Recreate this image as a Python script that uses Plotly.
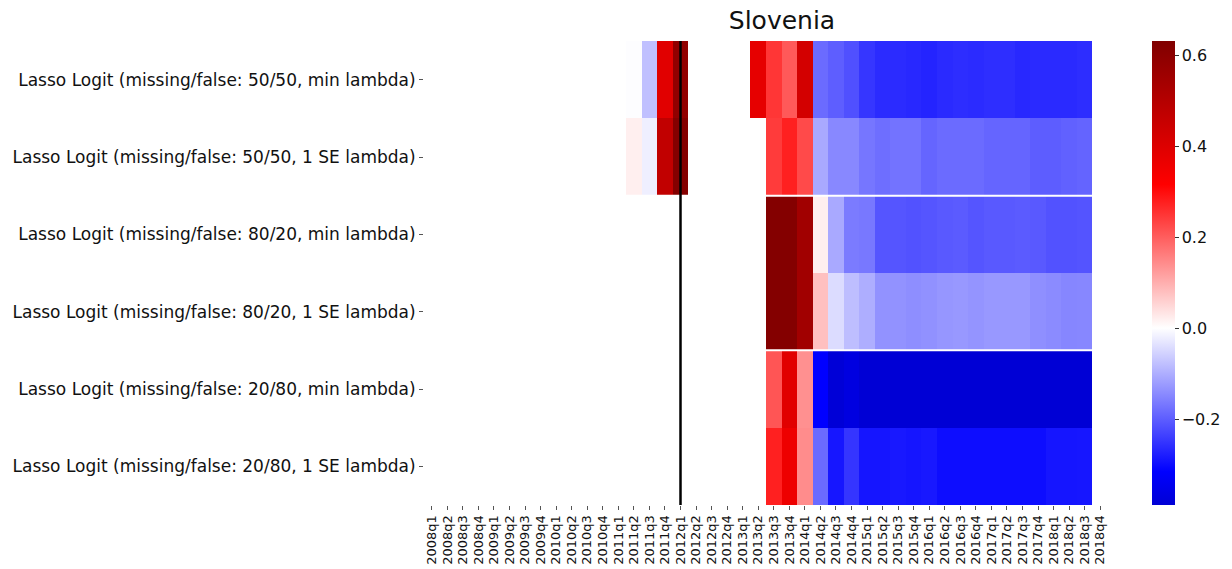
import plotly.graph_objects as go

quarters = [f"{y}q{q}" for y in range(2008, 2019) for q in range(1, 5)]

models = [
    "Lasso Logit (missing/false: 50/50, min lambda)",
    "Lasso Logit (missing/false: 50/50, 1 SE lambda)",
    "Lasso Logit (missing/false: 80/20, min lambda)",
    "Lasso Logit (missing/false: 80/20, 1 SE lambda)",
    "Lasso Logit (missing/false: 20/80, min lambda)",
    "Lasso Logit (missing/false: 20/80, 1 SE lambda)",
]

N = None
row_5050_min = [N]*13 + [-0.003, -0.078, 0.39, 0.59] + [N]*4 + [
    0.378, 0.249, 0.206, 0.424, -0.183, -0.199, -0.216, -0.249, -0.262, -0.262,
    -0.266, -0.271, -0.264, -0.26, -0.262, -0.258, -0.258, -0.266, -0.263, -0.263,
    -0.263, -0.26, N]
row_5050_1se = [N]*13 + [0.02, -0.02, 0.47, 0.62] + [N]*5 + [
    0.243, 0.276, 0.224, -0.107, -0.147, -0.147, -0.17, -0.18, -0.173,
    -0.173, -0.19, -0.183, -0.183, -0.183, -0.19, -0.19, -0.19, -0.2, -0.2,
    -0.195, -0.192, N]
row_8020_min = [N]*22 + [
    0.62, 0.62, 0.55, 0.02, -0.107, -0.163, -0.167, -0.21, -0.21,
    -0.214, -0.21, -0.206, -0.203, -0.21, -0.205, -0.205, -0.203, -0.206, -0.214,
    -0.214, -0.211, N]
row_8020_1se = [N]*22 + [
    0.62, 0.62, 0.55, 0.078, -0.043, -0.081, -0.1, -0.135, -0.135,
    -0.14, -0.136, -0.13, -0.127, -0.133, -0.128, -0.128, -0.128, -0.138, -0.144,
    -0.15, -0.148, N]
row_2080_min = [N]*22 + [
    0.21, 0.39, 0.137, -0.315, -0.385, -0.37, -0.389, -0.389, -0.389,
    -0.389, -0.389, -0.389, -0.389, -0.389, -0.389, -0.389, -0.389, -0.389, -0.389,
    -0.389, -0.389, N]
row_2080_1se = [N]*22 + [
    0.276, 0.357, 0.142, -0.184, -0.288, -0.25, -0.29, -0.29, -0.286,
    -0.29, -0.286, -0.299, -0.299, -0.3, -0.3, -0.3, -0.3, -0.3, -0.29,
    -0.29, -0.288, N]

z = [row_5050_min, row_5050_1se, row_8020_min, row_8020_1se, row_2080_min, row_2080_1se]

zmin, zmax = -0.389, 0.631
vr = max(zmax, -zmin)

# matplotlib "seismic" centred on 0 (seaborn center=0 behaviour)
seis = [(0.0, (0, 0, 0.3)), (0.25, (0, 0, 1)), (0.5, (1, 1, 1)), (0.75, (1, 0, 0)), (1.0, (0.5, 0, 0))]

def seis_color(f):
    for (f0, c0), (f1, c1) in zip(seis[:-1], seis[1:]):
        if f0 <= f <= f1:
            t = (f - f0) / (f1 - f0)
            c = [c0[i] + (c1[i] - c0[i]) * t for i in range(3)]
            return "rgb(%d,%d,%d)" % tuple(round(255 * v) for v in c)
    return "rgb(128,0,0)"

cs = []
vals = [zmin] + [v for v in (-vr / 2, 0.0, vr / 2, vr) if zmin < v < zmax] + [zmax]
for v in vals:
    f = (v + vr) / (2 * vr)
    cs.append([(v - zmin) / (zmax - zmin), seis_color(f)])

# page body has an 8px margin: work in figure pixels = screen pixels - 8
OFF = 8
W, H = 1232 - OFF, 569 - OFF
L, R, T, B = 424 - OFF, 1108 - OFF, 41 - OFF, 505 - OFF
PW = R - L

fig = go.Figure(go.Heatmap(
    z=z, x=quarters, y=models, zmin=zmin, zmax=zmax, colorscale=cs,
    hoverongaps=False,
    colorbar=dict(
        x=(1152 - OFF - L) / PW, xanchor="left", xpad=0, ypad=0, thickness=23,
        thicknessmode="pixels", len=1, lenmode="fraction", y=0.5, yanchor="middle",
        outlinewidth=0,
        tickvals=[-0.2, 0.0, 0.2, 0.4, 0.6], tickformat=".1f",
        ticks="outside", ticklen=4, tickcolor="#333",
        tickfont=dict(family="DejaVu Sans", size=16, color="#111"),
    ),
))

fig.add_shape(type="line", xref="paper", yref="y", x0=0, x1=1, y0=1.5, y1=1.5,
              line=dict(color="white", width=2))
fig.add_shape(type="line", xref="paper", yref="y", x0=0, x1=1, y0=3.5, y1=3.5,
              line=dict(color="white", width=2))
fig.add_shape(type="line", xref="x", yref="paper", x0="2012q1", x1="2012q1", y0=0, y1=1,
              line=dict(color="black", width=2.5))

fig.update_layout(
    width=W, height=H,
    margin=dict(l=L, r=W - R, t=T, b=H - B, autoexpand=False),
    paper_bgcolor="white", plot_bgcolor="white",
    font=dict(family="DejaVu Sans", color="#111"),
    title=dict(text="Slovenia", x=(782 - OFF - L) / PW, xref="paper", xanchor="center",
               y=1 - (20 - OFF) / H, yref="container", yanchor="middle",
               font=dict(family="DejaVu Sans", size=25, color="#111")),
)
fig.update_xaxes(tickangle=-90, tickmode="array", tickvals=quarters, ticktext=quarters,
                 ticks="outside", ticklen=4, tickcolor="#555", showgrid=False,
                 zeroline=False, showline=False, automargin=False,
                 tickfont=dict(family="DejaVu Sans", size=13, color="#111"))
fig.update_yaxes(autorange="reversed", ticks="outside", ticklen=4, tickcolor="#555",
                 showgrid=False, zeroline=False, showline=False, automargin=False,
                 tickfont=dict(family="DejaVu Sans", size=17, color="#111"))

fig.write_html("out.html")
